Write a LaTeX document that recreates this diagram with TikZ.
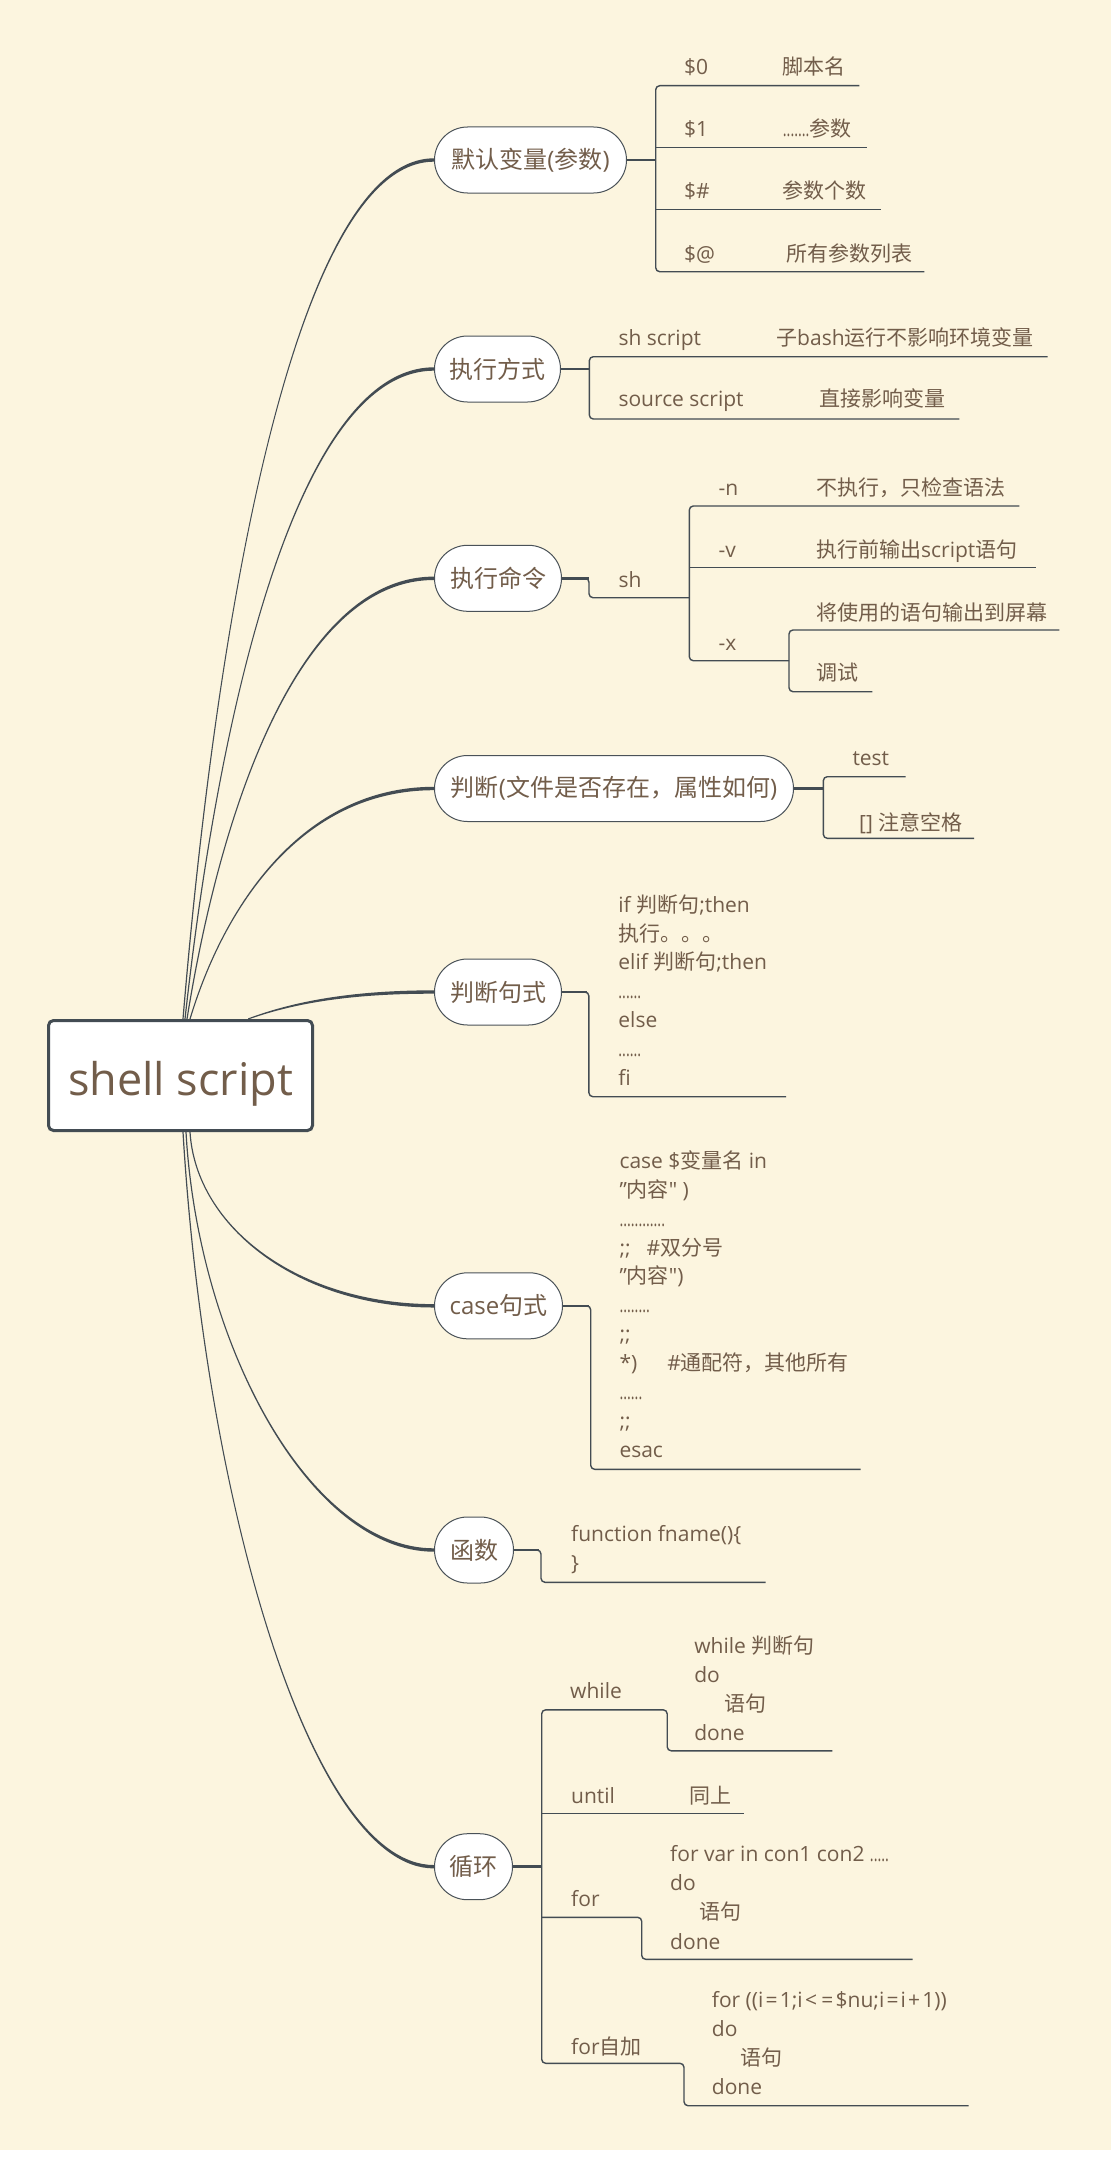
\documentclass[tikz,border=0pt]{standalone}
\usepackage{graphicx}
\usepackage{fontspec}
\setmainfont{Open Sans}
\newfontfamily\latinf{Open Sans}
\newfontfamily\cjkf{Noto Sans CJK SC}
\XeTeXinterchartokenstate=1
\newXeTeXintercharclass\cjkclass
\makeatletter
\def\setcjkrange#1#2{\count@=#1\relax
  \loop
    \XeTeXcharclass\count@=\cjkclass
  \ifnum\count@<#2\relax
    \advance\count@ by 1\relax
  \repeat}
\setcjkrange{"3000}{"303F}
\setcjkrange{"4E00}{"9FFF}
\setcjkrange{"FF00}{"FFEF}
\makeatother
\XeTeXinterchartoks 0 \cjkclass = {\cjkf}
\XeTeXinterchartoks 4095 \cjkclass = {\cjkf}
\XeTeXinterchartoks \cjkclass 0 = {\latinf}
\XeTeXinterchartoks \cjkclass 4095 = {\latinf}
\definecolor{bg}{HTML}{FCF5DF}
\definecolor{txt}{HTML}{725D4A}
\definecolor{ln}{HTML}{434C53}
\definecolor{bd}{HTML}{4A5258}
\newcommand\dts[1]{\scalebox{0.68}[1]{#1}}
\newcommand\opsp[1]{\hspace{2.2pt}#1\hspace{2.2pt}}
\newcommand\upbr[4]{\fill[ln] ([xshift=-0.6pt]#1) .. controls ([xshift=-0.6pt]#2) and ([yshift=1.7pt]#3) .. ([yshift=1.7pt]#4) -- ([yshift=-1.7pt]#4) .. controls ([yshift=-1.7pt]#3) and ([xshift=0.6pt]#2) .. ([xshift=0.6pt]#1) -- cycle;}
\newcommand\dnbr[4]{\fill[ln] ([xshift=0.6pt]#1) .. controls ([xshift=0.6pt]#2) and ([yshift=1.7pt]#3) .. ([yshift=1.7pt]#4) -- ([yshift=-1.7pt]#4) .. controls ([yshift=-1.7pt]#3) and ([xshift=-0.6pt]#2) .. ([xshift=-0.6pt]#1) -- cycle;}
\begin{document}
\begin{tikzpicture}[x=1pt,y=-1pt,
  l1/.style={draw=bd, line width=1pt, fill=white, rounded corners=33pt,
    minimum height=66pt, inner xsep=4pt, inner ysep=0pt, anchor=west,
    font=\fontsize{24}{28}\selectfont, text=txt},
  tx/.style={anchor=base west, inner sep=0pt, font=\fontsize{21}{25}\selectfont, text=txt},
  conn/.style={draw=ln, line width=1.4pt, rounded corners=4pt},
  stub/.style={draw=ln, line width=2.6pt}]
\useasboundingbox (0,0) rectangle (1111,2165);
\fill[white] (0,0) rectangle (1111,2165);
\fill[bg] (0,0) rectangle (1111,2150);

% root
\node[draw=ln, line width=3pt, fill=white, rounded corners=5pt, minimum width=264pt, minimum height=110pt, inner sep=0pt] (root) at (180.5,1075.5) {};
\node[anchor=base, inner sep=0pt, font=\fontsize{45}{54}\selectfont, text=txt] (rt) at (180.5,1095.7) {shell script};

% level-1 topics
\node[l1, minimum width=192pt] (n1) at (434,160) {默认变量(参数)};
\node[l1, minimum width=126pt] (n2) at (434,369) {执行方式};
\node[l1, minimum width=127pt] (n3) at (434,578.3) {执行命令};
\node[l1, minimum width=359pt] (n4) at (434,788.5) {判断(文件是否存在，属性如何)};
\node[l1, minimum width=127pt] (n5) at (434,992) {判断句式};
\node[l1, minimum width=128pt] (n6) at (434,1305.8) {case句式};
\node[l1, minimum width=79pt] (n7) at (434,1550) {函数};
\node[l1, minimum width=78pt] (n8) at (434,1866.7) {循环};

% main branches
\coordinate (s1) at (183,1019); \coordinate (c1a) at (218,598); \coordinate (c1b) at (298.5,160);
\coordinate (s2) at (185,1019); \coordinate (c2a) at (220,700); \coordinate (c2b) at (299.5,369);
\coordinate (s3) at (187,1019); \coordinate (c3a) at (221.6,803); \coordinate (c3b) at (300.6,578.3);
\coordinate (s4) at (190,1019); \coordinate (c4a) at (224,906); \coordinate (c4b) at (302,788.5);
\coordinate (s5) at (248,1019); \coordinate (c5a) at (300,1000); \coordinate (c5b) at (360,992);
\coordinate (s6) at (190,1132); \coordinate (c6a) at (196,1228); \coordinate (c6b) at (300,1305.8);
\coordinate (s7) at (186,1132); \coordinate (c7a) at (198,1345); \coordinate (c7b) at (310,1550);
\coordinate (s8) at (183,1132); \coordinate (c8a) at (205,1500); \coordinate (c8b) at (310,1866.7);
\upbr{s1}{c1a}{c1b}{n1.west}
\upbr{s2}{c2a}{c2b}{n2.west}
\upbr{s3}{c3a}{c3b}{n3.west}
\upbr{s4}{c4a}{c4b}{n4.west}
\fill[ln] ([yshift=0.6pt]s5) .. controls ([yshift=1pt]c5a) and ([yshift=1.6pt]c5b) .. ([yshift=1.7pt]n5.west) -- ([yshift=-1.7pt]n5.west) .. controls ([yshift=-1.6pt]c5b) and ([yshift=-1pt]c5a) .. ([yshift=-0.6pt]s5) -- cycle;
\dnbr{s6}{c6a}{c6b}{n6.west}
\dnbr{s7}{c7a}{c7b}{n7.west}
\dnbr{s8}{c8a}{c8b}{n8.west}

% ---- branch 1: default variables
\coordinate (b1m) at (655.7,160);
\coordinate (b1t) at (655.7,85.7); \coordinate (b1b) at (655.7,271.7);
\coordinate (e1a) at (859.3,85.7); \coordinate (e1b) at (866.7,147.7);
\coordinate (e1c) at (880.7,209.7); \coordinate (e1d) at (924.3,271.7);
\draw[stub] (n1.east) -- (b1m);
\draw[conn] (e1a) -- (b1t) -- (b1b) -- (e1d);
\draw[conn] (b1t |- e1b) -- (e1b);
\draw[conn] (b1t |- e1c) -- (e1c);
\node[tx] (a0) at (684,75) {\$0};
\node[tx] (a0d) at (782.7,75) {脚本名};
\node[tx] (a1) at (684,136.7) {\$1};
\node[tx] (a1d) at (782.7,136.7) {\dts{.......}参数};
\node[tx] (a2) at (684,198) {\$\#};
\node[tx] (a2d) at (782.7,198) {参数个数};
\node[tx] (a3) at (684,261) {\$@};
\node[tx] (a3d) at (786,261) {所有参数列表};

% ---- branch 2: run modes
\coordinate (b2m) at (589.3,369);
\coordinate (b2t) at (589.3,356.7); \coordinate (b2b) at (589.3,419);
\coordinate (e2a) at (1047.7,356.7); \coordinate (e2b) at (959.3,419);
\draw[stub] (n2.east) -- (b2m);
\draw[conn] (e2a) -- (b2t) -- (b2b) -- (e2b);
\node[tx] (m1) at (618.3,345) {sh script};
\node[tx] (m1d) at (776,345) {子bash运行不影响环境变量};
\node[tx] (m2) at (618.3,406.7) {source script};
\node[tx] (m2d) at (819.3,406.7) {直接影响变量};

% ---- branch 3: run command
\coordinate (b3m) at (589,578.3);
\coordinate (b3d) at (589,597.7); \coordinate (sh1) at (689.3,597.7);
\coordinate (sht) at (689.3,506); \coordinate (shb) at (689.3,660.7);
\coordinate (en) at (1019.3,506); \coordinate (ev) at (1035.7,567.7);
\coordinate (xb1) at (789,660.7); \coordinate (xt) at (789,630); \coordinate (xb) at (789,691.7);
\coordinate (ex1) at (1059.3,630); \coordinate (ex2) at (872.3,691.7);
\draw[stub] (n3.east) -- (b3m);
\draw[conn] (n3.east) -- (b3m) -- (b3d) -- (sh1);
\draw[conn] (en) -- (sht) -- (shb) -- (xb1);
\draw[conn] (sht |- ev) -- (ev);
\draw[conn] (ex1) -- (xt) -- (xb) -- (ex2);
\node[tx] (sh) at (618.3,587.3) {sh};
\node[tx] (on) at (718.3,495) {-n};
\node[tx] (ond) at (816,495) {不执行，只检查语法};
\node[tx] (ov) at (718.3,557.3) {-v};
\node[tx] (ovd) at (816,557.3) {执行前输出script语句};
\node[tx] (ox) at (718.3,650) {-x};
\node[tx] (ox1) at (816,620) {将使用的语句输出到屏幕};
\node[tx] (ox2) at (816,680.7) {调试};

% ---- branch 4: test
\coordinate (b4m) at (823.3,788.5);
\coordinate (b4t) at (823.3,776.7); \coordinate (b4b) at (823.3,838.3);
\coordinate (e4a) at (905.7,776.7); \coordinate (e4b) at (974,838.3);
\draw[stub] (n4.east) -- (b4m);
\draw[conn] (e4a) -- (b4t) -- (b4b) -- (e4b);
\node[tx] (te) at (852.3,765) {test};
\node[tx] (tb) at (859,830) {[] 注意空格};

% ---- branch 5: if
\coordinate (b5m) at (588.9,992); \coordinate (b5d) at (588.9,1096.7); \coordinate (e5) at (786.1,1096.7);
\draw[stub] (n5.east) -- ([xshift=-2pt]b5m);
\draw[conn] (n5.east) -- (b5m) -- (b5d) -- (e5);
\node[tx] (i1) at (618.2,912.3) {if 判断句;then};
\node[tx] (i2) at (618.2,941.1) {执行。。。};
\node[tx] (i3) at (618.2,969.9) {elif 判断句;then};
\node[tx] (i4) at (618.2,998.7) {\dts{......}};
\node[tx] (i5) at (618.2,1027.5) {else};
\node[tx] (i6) at (618.2,1056.3) {\dts{......}};
\node[tx] (i7) at (618.2,1085.1) {fi};

% ---- branch 6: case
\coordinate (b6m) at (590.7,1305.8); \coordinate (b6d) at (590.7,1469.3); \coordinate (e6) at (860.7,1469.3);
\draw[stub] (n6.east) -- ([xshift=-2pt]b6m);
\draw[conn] (n6.east) -- (b6m) -- (b6d) -- (e6);
\node[tx] (k0) at (619.3,1168.3) {case \$变量名 in};
\node[tx] (k1) at (619.3,1197.2) {\symbol{34}内容\symbol{34} )};
\node[tx] (k2) at (619.3,1226.1) {\dts{............}};
\node[tx] (k3) at (619.3,1255.0) {;;\hspace{16pt}\#双分号};
\node[tx] (k4) at (619.3,1283.9) {\symbol{34}内容\symbol{34})};
\node[tx] (k5) at (619.3,1312.8) {\dts{........}};
\node[tx] (k6) at (619.3,1341.7) {;;};
\node[tx] (k7) at (619.3,1370.6) {*)\hspace{30pt}\#通配符，其他所有};
\node[tx] (k8) at (619.3,1399.5) {\dts{......}};
\node[tx] (k9) at (619.3,1428.4) {;;};
\node[tx] (k10) at (619.3,1457.3) {esac};

% ---- branch 7: function
\coordinate (b7m) at (541,1550); \coordinate (b7d) at (541,1582.3); \coordinate (e7) at (765.7,1582.3);
\draw[stub] (n7.east) -- ([xshift=-2pt]b7m);
\draw[conn] (n7.east) -- (b7m) -- (b7d) -- (e7);
\node[tx] (f1) at (571,1541.7) {function fname()\{};
\node[tx] (f2) at (571,1570.6) {\}};

% ---- branch 8: loops
\coordinate (b8m) at (541.7,1866.7);
\coordinate (wt) at (541.7,1709.8); \coordinate (w1) at (667.2,1709.8); \coordinate (w2) at (667.2,1750.8); \coordinate (w3) at (832.4,1750.8);
\coordinate (ub) at (541.7,1813.3); \coordinate (ue) at (744,1813.3);
\coordinate (fb) at (541.7,1917.3); \coordinate (f1a) at (641.7,1917.3); \coordinate (f1b) at (641.7,1959.3); \coordinate (f1c) at (912.5,1959.3);
\coordinate (gb) at (541.7,2063.3); \coordinate (g1a) at (684,2063.3); \coordinate (g1b) at (684,2105.7); \coordinate (g1c) at (968.5,2105.7);
\draw[stub] (n8.east) -- (b8m);
\draw[conn] (w3) -- (w2) -- (w1) -- (wt) -- (gb) -- (g1a) -- (g1b) -- (g1c);
\draw[conn] (ub) -- (ue);
\draw[conn] (fb) -- (f1a) -- (f1b) -- (f1c);
\node[tx] (lw) at (570,1698.4) {while};
\node[tx] (lw1) at (694.1,1653.7) {while 判断句};
\node[tx] (lw2) at (694.1,1682.5) {do};
\node[tx] (lw3) at (723.9,1711.3) {语句};
\node[tx] (lw4) at (694.1,1740.1) {done};
\node[tx] (lu) at (571,1803.3) {until};
\node[tx] (lud) at (689,1803.3) {同上};
\node[tx] (lf) at (571,1906.7) {for};
\node[tx] (lf1) at (670,1861) {for var in con1 con2 \dts{.....}};
\node[tx] (lf2) at (670,1890) {do};
\node[tx] (lf3) at (699,1919.6) {语句};
\node[tx] (lf4) at (670,1949) {done};
\node[tx] (lg) at (571,2054) {for自加};
\node[tx] (lg1) at (711.7,2007.7) {for ((i\opsp{=}1;i\opsp{<}\opsp{=}\$nu;i\opsp{=}i\opsp{+}1))};
\node[tx] (lg2) at (711.7,2036.6) {do};
\node[tx] (lg3) at (740.7,2065.5) {语句};
\node[tx] (lg4) at (711.7,2094.4) {done};
\end{tikzpicture}
\end{document}
